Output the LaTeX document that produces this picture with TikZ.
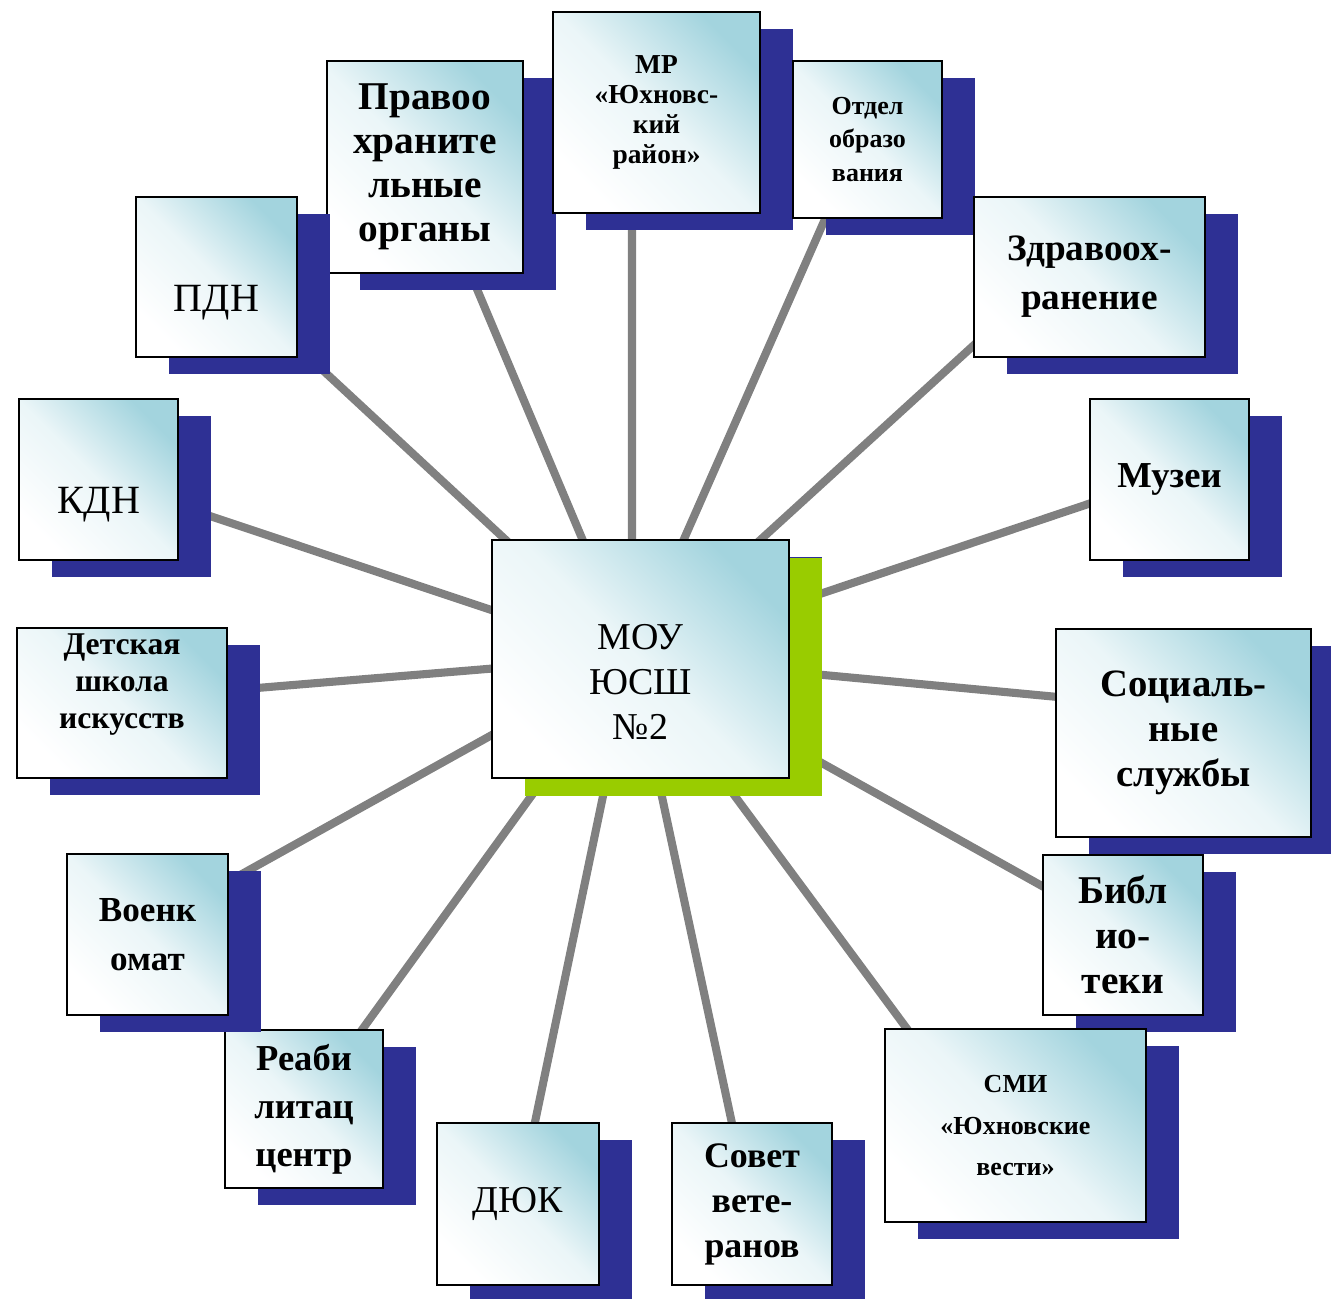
\documentclass[tikz,border=0pt]{standalone}
\usepackage{fontspec}
\setmainfont{Liberation Serif}
\usepackage{tikz}
\usetikzlibrary{backgrounds,shadows,calc}

\definecolor{boxteal}{RGB}{163,212,222}
\definecolor{navyshade}{RGB}{46,48,148}
\definecolor{limeshade}{RGB}{153,204,0}
\definecolor{linkgrey}{RGB}{128,128,128}

\begin{document}
\begin{tikzpicture}[
	box/.style={draw, line width=.6pt, inner sep=0pt, align=center,
		top color=boxteal, bottom color=white, middle color=boxteal!22, shading angle=-45,
		drop shadow={shadow xshift=.33cm, shadow yshift=-.17cm, fill=navyshade, opacity=1}},
	hubbox/.style={box, drop shadow={shadow xshift=.33cm, shadow yshift=-.18cm, fill=limeshade, opacity=1}},
	link/.style={draw=linkgrey, line width=2.3pt}
]
	\useasboundingbox (0, 0) rectangle (13.31, 12.98);

	\node[hubbox, minimum width=2.97cm, minimum height=2.38cm, text height=1.6cm, text depth=0cm, font=\fontsize{10.8}{12.8}\selectfont] (c) at (6.405, 6.39) {МОУ\\ЮСШ\\№2};

	\node[box, minimum width=1.96cm, minimum height=2.12cm, font=\fontsize{11.2}{12.5}\selectfont\bfseries] (pravo) at (4.25, 11.31) {Правоо\\храните\\льные\\органы};
	\node[box, minimum width=2.07cm, minimum height=2.01cm, font=\fontsize{7.8}{8.6}\selectfont\bfseries] (mr) at (6.565, 11.855) {МР\\«Юхновс-\\кий\\район»};
	\node[box, minimum width=1.49cm, minimum height=1.57cm, font=\fontsize{7.4}{9.4}\selectfont\bfseries] (otdel) at (8.675, 11.585) {Отдел\\образо\\вания};
	\node[box, minimum width=2.31cm, minimum height=1.60cm, font=\fontsize{10.6}{14}\selectfont\bfseries] (zdrav) at (10.895, 10.21) {Здравоох-\\ранение};
	\node[box, minimum width=1.59cm, minimum height=1.61cm, font=\fontsize{10.4}{12.8}\selectfont\bfseries] (muzei) at (11.695, 8.185) {Музеи};
	\node[box, minimum width=2.55cm, minimum height=2.08cm, font=\fontsize{11}{12.8}\selectfont\bfseries] (soc) at (11.835, 5.65) {Социаль-\\ные\\службы};
	\node[box, minimum width=1.60cm, minimum height=1.60cm, font=\fontsize{11.2}{12.8}\selectfont\bfseries] (bibl) at (11.23, 3.63) {Библ\\ио-\\теки};
	\node[box, minimum width=2.61cm, minimum height=1.93cm, font=\fontsize{7.4}{11.7}\selectfont\bfseries] (smi) at (10.155, 1.725) {СМИ\\«Юхновские\\вести»};
	\node[box, minimum width=1.60cm, minimum height=1.62cm, font=\fontsize{10.2}{12.8}\selectfont\bfseries] (sovet) at (7.52, 0.94) {Совет\\вете-\\ранов};
	\node[box, minimum width=1.62cm, minimum height=1.62cm, font=\fontsize{10.8}{12.8}\selectfont] (dyuk) at (5.18, 0.94) {ДЮК};
	\node[box, minimum width=1.58cm, minimum height=1.58cm, font=\fontsize{10.4}{13.6}\selectfont\bfseries] (reab) at (3.04, 1.89) {Реаби\\литац\\центр};
	\node[box, minimum width=1.61cm, minimum height=1.61cm, font=\fontsize{10}{13.8}\selectfont\bfseries] (voenk) at (1.475, 3.635) {Военк\\омат};
	\node[box, minimum width=2.10cm, minimum height=1.50cm, text height=.50cm, text depth=0cm, font=\fontsize{9}{10.5}\selectfont\bfseries] (detsk) at (1.22, 5.95) {Детская\\школа\\искусств};
	\node[box, minimum width=1.59cm, minimum height=1.61cm, text height=.67cm, text depth=0cm, font=\fontsize{11.4}{12.8}\selectfont] (kdn) at (0.985, 8.185) {КДН};
	\node[box, minimum width=1.61cm, minimum height=1.60cm, text height=.70cm, text depth=0cm, font=\fontsize{11.4}{12.8}\selectfont] (pdn) at (2.165, 10.21) {ПДН};

	\coordinate (hub) at ([shift={(-.085, .02)}]c.center);

	\begin{scope}[on background layer]
		\draw[link] (hub) -- ([shift={(.30, -.70)}]pravo.center);
		\draw[link] (hub) -- ([shift={(-.245, -.675)}]mr.center);
		\draw[link] (hub) -- ([shift={(-.275, -.455)}]otdel.center);
		\draw[link] (hub) -- ([shift={(-.815, -.37)}]zdrav.center);
		\draw[link] (hub) -- ([shift={(-.425, -.115)}]muzei.center);
		\draw[link] (hub) -- ([shift={(-.935, .33)}]soc.center);
		\draw[link] (hub) -- ([shift={(-.47, .30)}]bibl.center);
		\draw[link] (hub) -- ([shift={(-.81, .595)}]smi.center);
		\draw[link] (hub) -- ([shift={(-.10, .34)}]sovet.center);
		\draw[link] (hub) -- ([shift={(.07, .34)}]dyuk.center);
		\draw[link] (hub) -- ([shift={(.31, .42)}]reab.center);
		\draw[link] (hub) -- ([shift={(.675, .455)}]voenk.center);
		\draw[link] (hub) -- ([shift={(.985, .12)}]detsk.center);
		\draw[link] (hub) -- ([shift={(.725, -.235)}]kdn.center);
		\draw[link] (hub) -- ([shift={(.775, -.665)}]pdn.center);
	\end{scope}
\end{tikzpicture}
\end{document}
